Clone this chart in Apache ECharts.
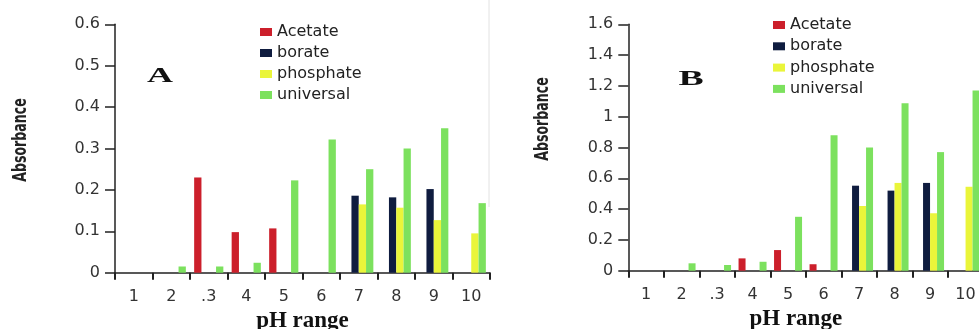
<!DOCTYPE html>
<html>
<head>
<meta charset="utf-8">
<script src="https://cdn.jsdelivr.net/npm/echarts@6/dist/echarts.min.js"></script>
<style>
html,body{margin:0;padding:0;background:#fff;}
#chart{width:979px;height:329px;}
</style>
</head>
<body>
<div id="chart"></div>
<script>
// ---- data ----
const categories = ['1', '2', '.3', '4', '5', '6', '7', '8', '9', '10'];
const seriesNames = ['Acetate', 'borate', 'phosphate', 'universal'];

// Panel A
const acetateA   = [null, null, 0.23, 0.098, 0.107, null, null, null, null, null];
const borateA    = [null, null, null, null, null, null, 0.186, 0.182, 0.202, null];
const phosphateA = [null, null, null, null, null, null, 0.165, 0.157, 0.127, 0.095];
const universalA = [null, 0.015, 0.015, 0.024, 0.223, 0.322, 0.25, 0.30, 0.349, 0.168];

// Panel B
const acetateB   = [null, null, null, 0.08, 0.134, 0.042, null, null, null, null];
const borateB    = [null, null, null, null, null, null, 0.552, 0.52, 0.57, null];
const phosphateB = [null, null, null, null, null, null, 0.42, 0.57, 0.373, 0.545];
const universalB = [null, 0.048, 0.037, 0.058, 0.35, 0.88, 0.80, 1.087, 0.77, 1.17];

const yMaxA = 0.6, yStepA = 0.1;
const yMaxB = 1.6, yStepB = 0.2;

// ---- styles ----
const colors = ['#cc1f2b', '#0f1c3f', '#eaf53a', '#7ce15e'];
const axisColor = '#222';
const labelFont = 'DejaVu Sans';

const chart = echarts.init(document.getElementById('chart'));

function xAxisFor(gridIndex, namePad) {
  return {
    type: 'category', gridIndex: gridIndex, data: categories,
    boundaryGap: true,
    axisLine: { lineStyle: { color: axisColor, width: 1.5 } },
    axisTick: { show: true, length: 7, lineStyle: { color: axisColor, width: 2 } },
    axisLabel: { fontFamily: labelFont, fontSize: 16, color: '#333', margin: 16, interval: 0 },
    name: 'pH range', nameLocation: 'middle', nameGap: 37,
    nameTextStyle: { fontFamily: 'Liberation Serif', fontWeight: 'bold', fontSize: 23, color: '#111', padding: namePad }
  };
}
function yAxisFor(gridIndex, max, step) {
  return {
    type: 'value', gridIndex: gridIndex, min: 0, max: max, interval: step,
    splitLine: { show: false },
    axisLine: { show: true, lineStyle: { color: axisColor, width: 1.5 } },
    axisTick: { show: true, length: 10, lineStyle: { color: axisColor, width: 1.5 } },
    axisLabel: { fontFamily: labelFont, fontSize: 16, color: '#333', margin: 15 }
  };
}
function barSeries(name, data, idx, barWidth) {
  return {
    type: 'bar', name: name, data: data,
    xAxisIndex: idx, yAxisIndex: idx,
    barWidth: barWidth, barGap: '0%',
    itemStyle: { color: colors[seriesNames.indexOf(name)] },
    emphasis: { disabled: true }
  };
}
function legendFor(left, top, gap) {
  return {
    data: seriesNames, orient: 'vertical', left: left, top: top, padding: 0,
    icon: 'rect', itemWidth: 12, itemHeight: 8, itemGap: gap,
    textStyle: { fontFamily: labelFont, fontSize: 16, color: '#222', lineHeight: 16 }
  };
}

const option = {
  animation: false,
  backgroundColor: '#fff',
  color: colors,
  grid: [
    { left: 115, top: 24.3, width: 375, height: 248.4, outerBoundsMode: 'none', containLabel: false },
    { left: 628.3, top: 24.3, width: 355, height: 246.4, outerBoundsMode: 'none', containLabel: false }
  ],
  xAxis: [xAxisFor(0, [0, 0, 0, 0]), xAxisFor(1, [0, 20, 0, 0])],
  yAxis: [yAxisFor(0, yMaxA, yStepA), yAxisFor(1, yMaxB, yStepB)],
  legend: [legendFor(260, 24, 5), legendFor(773, 17, 5.3)],
  series: [
    barSeries('Acetate', acetateA, 0, 7.3),
    barSeries('borate', borateA, 0, 7.3),
    barSeries('phosphate', phosphateA, 0, 7.3),
    barSeries('universal', universalA, 0, 7.3),
    barSeries('Acetate', acetateB, 1, 7),
    barSeries('borate', borateB, 1, 7),
    barSeries('phosphate', phosphateB, 1, 7),
    barSeries('universal', universalB, 1, 7)
  ],
  graphic: [
    { type: 'text', x: 21, y: 140, rotation: Math.PI / 2, scaleY: 1.4,
      style: { text: 'Absorbance', font: 'bold 14px "DejaVu Sans Condensed", "DejaVu Sans"', fill: '#222', align: 'center', verticalAlign: 'middle' } },
    { type: 'text', x: 543, y: 119, rotation: Math.PI / 2, scaleY: 1.4,
      style: { text: 'Absorbance', font: 'bold 14px "DejaVu Sans Condensed", "DejaVu Sans"', fill: '#222', align: 'center', verticalAlign: 'middle' } },
    { type: 'text', x: 160, y: 77, scaleX: 1.8,
      style: { text: 'A', font: 'bold 20px "Liberation Serif"', fill: '#111', align: 'center', verticalAlign: 'middle' } },
    { type: 'text', x: 691, y: 80, scaleX: 1.8,
      style: { text: 'B', font: 'bold 21px "Liberation Serif"', fill: '#111', align: 'center', verticalAlign: 'middle' } },
    { type: 'line', shape: { x1: 489, y1: 0, x2: 489, y2: 207 },
      style: { stroke: '#e2e2e2', lineWidth: 1 } }
  ]
};
chart.setOption(option);
</script>
</body>
</html>
